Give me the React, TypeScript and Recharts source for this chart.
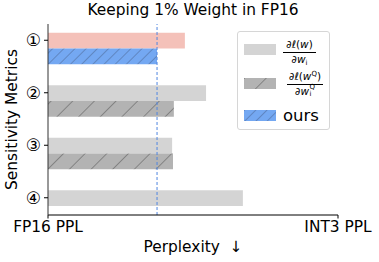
import { BarChart, Bar, XAxis, YAxis, ReferenceLine, Legend, Cell } from "recharts";

const metrics = ["①", "②", "③", "④"];
// bar centred on each tick (① is the pink one, the rest are plain gray)
const gradValues = [47.2, 54.5, 42.8, 67.2];
// hatched bar just below it (④ has none)
const quantGradValues = [37.6, 43.4, 43.1, null];
// empty slot above, so that the first bar sits on the tick like matplotlib's barh
const spacerValues = [null, null, null, null];
const oursPpl = 37.6;
const xTicks = [0, 100];
const xTickLabels = ["FP16 PPL", "INT3 PPL"];

const data = metrics.map((m, i) => ({
  metric: m,
  spacer: spacerValues[i],
  top: gradValues[i],
  bottom: quantGradValues[i],
}));

const topFills = ["#f4c1b9", "#d4d4d4", "#d4d4d4", "#d4d4d4"];
const bottomFills = ["url(#hatchBlue)", "url(#hatchGray)", "url(#hatchGray)", "url(#hatchGray)"];

const FONT = "'DejaVu Sans', sans-serif";
const FS = 15.4;
const yPad = { top: -10, bottom: -9 };

const small = { fontSize: 7, lineHeight: "7.5px", position: "relative" as const };

// fraction laid out absolutely so sub/superscripts don't push lines apart
const Frac = ({ left, width, top, num, den }: { left: number; width: number; top: number; num: React.ReactNode; den: React.ReactNode }) => (
  <div style={{ position: "absolute", left, top, width, fontSize: 10.5, lineHeight: "11px", textAlign: "center", whiteSpace: "nowrap" }}>
    <div style={{ position: "absolute", left: 0, width, top: 0 }}>{num}</div>
    <div style={{ position: "absolute", left: 0, width, top: 12.5, borderTop: "1px solid #000" }} />
    <div style={{ position: "absolute", left: 0, width, top: 15 }}>{den}</div>
  </div>
);

const Patch = ({ fill }: { fill: string }) => (
  <svg width={32} height={11} style={{ display: "block" }}>
    <rect x={0} y={0} width={32} height={11} fill={fill} />
  </svg>
);

const renderLegend = () => (
  <div
    style={{
      position: "relative",
      width: 93,
      height: 99,
      boxSizing: "border-box",
      border: "1px solid #d6d6d6",
      borderRadius: 3,
      background: "rgba(255,255,255,0.85)",
      fontFamily: FONT,
      color: "#000",
    }}
  >
    <div style={{ position: "absolute", left: 6, top: 12 }}><Patch fill="#d4d4d4" /></div>
    <Frac
      left={45}
      width={33}
      top={7}
      num={<span>∂ℓ(<i>w</i>)</span>}
      den={<span>∂<i>w</i><span style={{ ...small, top: 2 }}>i</span></span>}
    />
    <div style={{ position: "absolute", left: 6, top: 46 }}><Patch fill="url(#hatchGray)" /></div>
    <Frac
      left={49}
      width={36}
      top={39}
      num={<span>∂ℓ(<i>w</i><span style={{ ...small, top: -4 }}>Q</span>)</span>}
      den={
        <span>
          ∂<i>w</i>
          <span
            style={{
              display: "inline-flex",
              flexDirection: "column",
              alignItems: "flex-start",
              verticalAlign: "top",
              position: "relative",
              top: -2.5,
              marginLeft: 0.5,
            }}
          >
            <span style={small}>Q</span>
            <span style={small}>i</span>
          </span>
        </span>
      }
    />
    <div style={{ position: "absolute", left: 6, top: 78 }}><Patch fill="url(#hatchBlue)" /></div>
    <div style={{ position: "absolute", left: 45, top: 74, fontSize: 16.5, lineHeight: "19px" }}>ours</div>
  </div>
);

export default function App() {
  return (
    <div style={{ position: "relative", width: 379, height: 262, fontFamily: FONT }}>
      <style>{`body{margin:0}`}</style>
      <div style={{ position: "absolute", left: 0, top: 1, width: 386, textAlign: "center", fontSize: FS, color: "#000" }}>
        Keeping 1% Weight in FP16
      </div>
      <BarChart
        width={379}
        height={262}
        data={data}
        layout="vertical"
        margin={{ top: 24, right: 41, bottom: 0, left: 0 }}
        barGap={0}
        style={{ fontFamily: FONT }}
      >
        <defs>
          <pattern id="hatchGray" patternUnits="userSpaceOnUse" width={15.3} height={15.3} patternTransform="rotate(45)">
            <rect x={0} y={0} width={15.3} height={15.3} fill="#b3b3b3" />
            <line x1={0} y1={0} x2={0} y2={15.3} stroke="#555" strokeWidth={1} />
          </pattern>
          <pattern id="hatchBlue" patternUnits="userSpaceOnUse" width={7.9} height={7.9} patternTransform="rotate(45)">
            <rect x={0} y={0} width={7.9} height={7.9} fill="#74a8f2" />
            <line x1={0} y1={0} x2={0} y2={7.9} stroke="#4a6590" strokeWidth={1} />
          </pattern>
        </defs>
        <XAxis
          type="number"
          domain={[0, 100]}
          ticks={xTicks}
          tickFormatter={(v: number) => xTickLabels[xTicks.indexOf(v)]}
          height={47}
          axisLine={{ stroke: "#000" }}
          tickLine={{ stroke: "#000" }}
          tickSize={3.5}
          tickMargin={3}
          tick={{ fontSize: FS, fill: "#000" }}
          interval={0}
          label={(props: any) => {
            const vb = props.viewBox;
            return (
              <text x={vb.x + vb.width / 2} y={vb.y + 37} textAnchor="middle" fontSize={FS} fill="#000" style={{ whiteSpace: "pre" }}>
                {"Perplexity  ↓"}
              </text>
            );
          }}
        />
        <XAxis
          xAxisId="top"
          orientation="top"
          type="number"
          domain={[0, 100]}
          height={0}
          tick={false}
          tickLine={false}
          axisLine={{ stroke: "#000" }}
        />
        <YAxis
          type="category"
          dataKey="metric"
          width={48}
          padding={yPad}
          axisLine={{ stroke: "#333" }}
          tickLine={{ stroke: "#000" }}
          tickSize={4}
          tickMargin={3}
          tick={{ fontSize: 17, fill: "#000" }}
          interval={0}
          label={(props: any) => {
            const vb = props.viewBox;
            const cy = vb.y + vb.height / 2;
            return (
              <text
                x={12}
                y={cy}
                transform={`rotate(-90 12 ${cy})`}
                textAnchor="middle"
                dominantBaseline="central"
                fontSize={FS}
                fill="#000"
              >
                Sensitivity Metrics
              </text>
            );
          }}
        />
        <YAxis
          yAxisId="right"
          orientation="right"
          type="category"
          dataKey="metric"
          width={0}
          tick={false}
          tickLine={false}
          axisLine={{ stroke: "#000" }}
        />
        <Legend
          layout="vertical"
          align="center"
          verticalAlign="middle"
          content={renderLegend}
          wrapperStyle={{ left: 237, top: 31, width: 93, height: 99 }}
        />
        <Bar dataKey="spacer" barSize={17.5} fill="none" isAnimationActive={false} />
        <Bar dataKey="top" barSize={17.5} isAnimationActive={false}>
          {data.map((d, i) => (
            <Cell key={`top-${d.metric}`} fill={topFills[i]} />
          ))}
        </Bar>
        <Bar dataKey="bottom" barSize={17.5} isAnimationActive={false}>
          {data.map((d, i) => (
            <Cell key={`bottom-${d.metric}`} fill={bottomFills[i]} />
          ))}
        </Bar>
        <ReferenceLine x={oursPpl} stroke="#4f86e0" strokeDasharray="3 2" strokeWidth={1} />
      </BarChart>
    </div>
  );
}
